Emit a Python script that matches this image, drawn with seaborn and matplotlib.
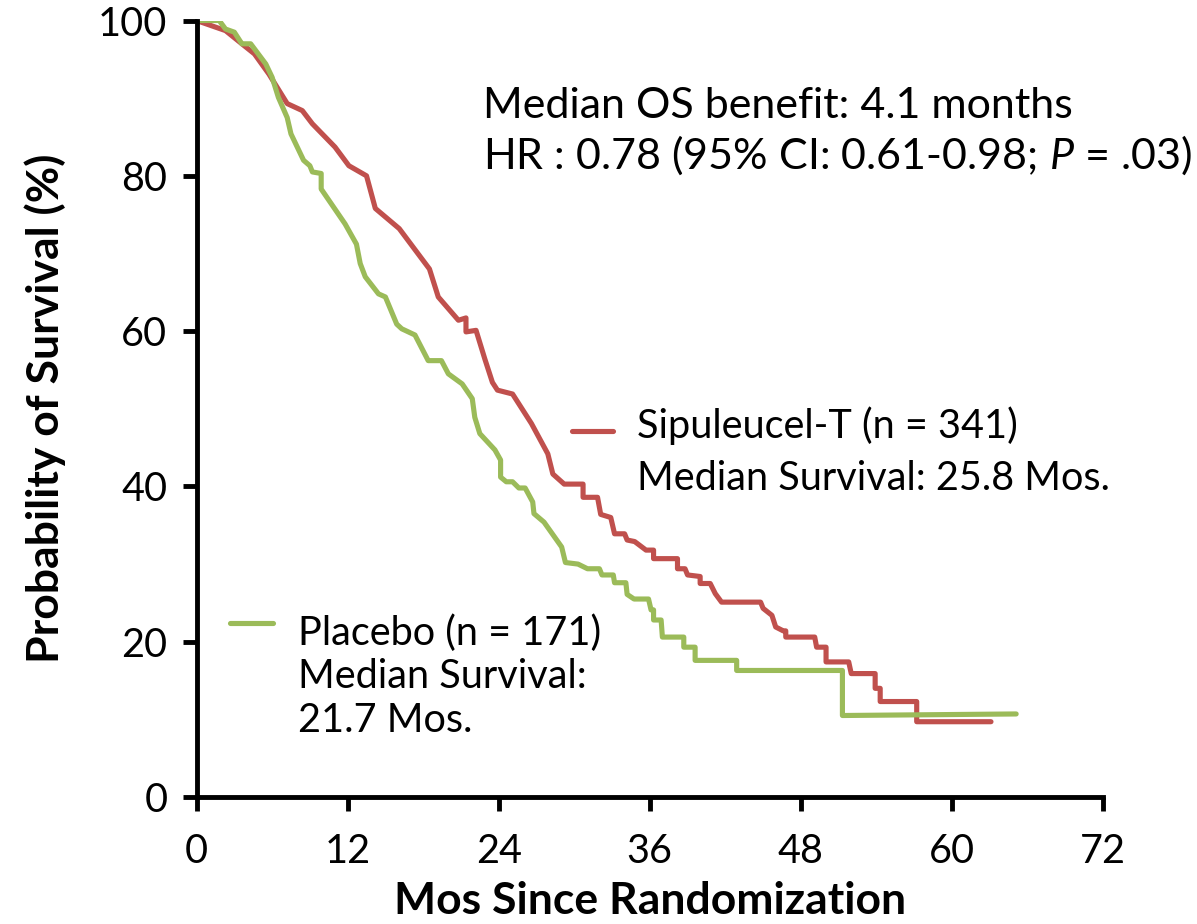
import pandas as pd
import matplotlib
matplotlib.use("Agg")
import matplotlib.pyplot as plt
import seaborn as sns

# Kaplan-Meier curves (months, % surviving)
red_months = [0, 2.3, 3.6, 4.6, 5.75, 7.2, 8.4, 9.2, 11.0, 12.1,
              13.5, 14.2, 16.1, 18.5, 19.2, 20.8, 21.4, 21.4, 22.2, 22.9,
              23.5, 23.9, 25.1, 26.6, 27.9, 28.3, 29.2, 30.7, 30.7, 31.85,
              32.1, 32.9, 33.2, 34.0, 34.2, 34.8, 35.7, 36.3, 36.3, 38.2,
              38.2, 38.8, 39.0, 40.0, 40.0, 40.8, 41.2, 41.7, 44.8, 45.0,
              45.7, 46.0, 46.6, 46.8, 46.8, 49.1, 49.25, 50.0, 50.0, 51.8,
              52.0, 53.9, 53.9, 54.3, 54.3, 57.2, 57.2, 63.1]
red_surv = [100, 98.7, 97.0, 95.7, 93.1, 89.3, 88.4, 86.7, 83.7, 81.3,
            80.0, 75.8, 73.2, 68.0, 64.4, 61.4, 61.7, 59.9, 60.1, 56.4,
            53.4, 52.4, 51.9, 48.1, 44.2, 41.6, 40.3, 40.3, 38.6, 38.6,
            36.4, 36.0, 33.9, 33.9, 33.1, 32.9, 31.8, 31.8, 30.7, 30.7,
            29.4, 29.4, 28.6, 28.4, 27.5, 27.5, 26.2, 25.1, 25.1, 24.3,
            23.4, 21.9, 21.4, 21.4, 20.6, 20.6, 19.3, 19.3, 17.4, 17.4,
            15.9, 15.9, 14.0, 14.0, 12.3, 12.3, 9.7, 9.7]

green_months = [0, 1.8, 2.3, 3.0, 3.6, 4.3, 5.5, 6.0, 6.5, 7.2,
                7.5, 8.5, 9.0, 9.2, 9.9, 9.9, 11.8, 12.7, 13.0, 13.4,
                14.45, 15.0, 15.9, 16.3, 17.35, 18.4, 19.45, 20.0, 21.1, 21.9,
                22.1, 22.5, 23.7, 24.15, 24.15, 24.6, 25.1, 25.6, 26.1, 26.7,
                26.8, 27.6, 29.0, 29.3, 30.3, 31.05, 32.0, 32.2, 33.1, 33.2,
                34.1, 34.2, 34.75, 35.9, 36.1, 36.3, 36.3, 36.9, 37.0, 38.7,
                38.7, 39.6, 39.6, 42.9, 42.9, 51.3, 51.3, 65.1]
green_surv = [100, 100, 98.9, 98.5, 97.0, 97.0, 94.4, 92.7, 90.1, 87.5,
              85.4, 82.0, 81.3, 80.5, 80.3, 78.3, 73.8, 71.2, 68.7, 67.0,
              64.8, 64.4, 60.9, 60.3, 59.5, 56.2, 56.2, 54.5, 53.2, 51.3,
              48.9, 46.8, 44.7, 43.4, 41.2, 40.6, 40.6, 39.8, 39.8, 38.0,
              36.5, 35.4, 32.2, 30.2, 30.0, 29.4, 29.4, 28.6, 28.6, 27.6,
              27.6, 26.1, 25.5, 25.5, 24.1, 24.1, 22.8, 22.8, 20.6, 20.6,
              19.3, 19.3, 17.6, 17.6, 16.3, 16.3, 10.5, 10.7]

arms = ["Sipuleucel-T", "Placebo"]
arm_colors = ["#C0504D", "#9BBB59"]
x_ticks = [0, 12, 24, 36, 48, 60, 72]
y_ticks = [0, 20, 40, 60, 80, 100]

df = pd.concat([
    pd.DataFrame({"month": red_months, "surv": red_surv, "arm": arms[0]}),
    pd.DataFrame({"month": green_months, "surv": green_surv, "arm": arms[1]}),
], ignore_index=True)

sns.set_style("ticks")
plt.rcParams["font.family"] = ["Lato", "DejaVu Sans"]
plt.rcParams["mathtext.fontset"] = "custom"
plt.rcParams["mathtext.rm"] = "Lato"
plt.rcParams["mathtext.it"] = "Lato:italic"
for key in ["text.color", "axes.labelcolor", "xtick.color", "ytick.color",
            "xtick.labelcolor", "ytick.labelcolor"]:
    plt.rcParams[key] = "black"

fig = plt.figure(figsize=(11.97, 9.24), dpi=100)
ax = fig.add_axes([0.1642, 0.1374, 0.7573, 0.8404])

sns.lineplot(data=df, x="month", y="surv", hue="arm", hue_order=arms,
             palette=arm_colors, sort=False, estimator=None, lw=3.7,
             legend=False, ax=ax)

ax.set_xlim(0, 72)
ax.set_ylim(0, 100)
ax.set_xticks(x_ticks)
ax.set_yticks(y_ticks)
ax.tick_params(axis="both", labelsize=28.5, width=3.5, length=10,
               color="black", labelcolor="black")
ax.tick_params(axis="x", pad=16)
ax.tick_params(axis="y", pad=11)
for side in ["left", "bottom"]:
    ax.spines[side].set_linewidth(3.5)
    ax.spines[side].set_color("black")
sns.despine(ax=ax)
for sp in ax.spines.values():
    sp.set_clip_on(False)

ax.set_xlabel("Mos Since Randomization", fontsize=32, fontweight="bold",
              labelpad=8, color="black")
ax.set_ylabel("Probability of Survival (%)", fontsize=32, fontweight="bold",
              labelpad=23, color="black")

# annotations
top_txt = dict(fontsize=31, color="black", va="baseline", ha="left")
ax.text(22.75, 87.5, "Median OS benefit: 4.1 months", **top_txt)
ax.text(22.75, 80.9, r"HR : 0.78 (95% CI: 0.61-0.98; $\mathit{P}$ = .03)", **top_txt)

txt = dict(fontsize=28.5, color="black", va="baseline", ha="left")
ax.plot([29.8, 33.1], [47.2, 47.2], color=arm_colors[0], lw=3.7)
ax.text(35.0, 46.3, "Sipuleucel-T (n = 341)", **txt)
ax.text(35.0, 39.5, "Median Survival: 25.8 Mos.", **txt)

ax.plot([2.66, 6.08], [22.4, 22.4], color=arm_colors[1], lw=3.7)
ax.text(8.06, 19.6, "Placebo (n = 171)", **txt)
ax.text(8.06, 14.0, "Median Survival:", **txt)
ax.text(8.06, 8.4, "21.7 Mos.", **txt)

fig.savefig("out.png", dpi=100)
